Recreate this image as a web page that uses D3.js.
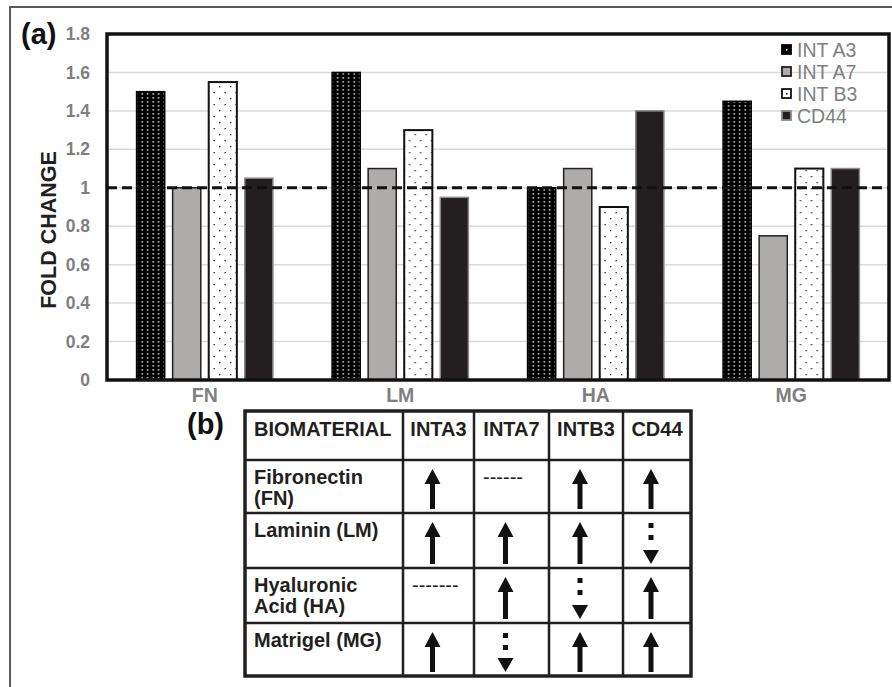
<!DOCTYPE html>
<html>
<head>
<meta charset="utf-8">
<script src="https://cdn.jsdelivr.net/npm/d3@7"></script>
<style>
  body { margin: 0; background: #fff; }
  svg { display: block; font-family: "Liberation Sans", Arial, sans-serif; }
</style>
</head>
<body>
<div id="chart"></div>
<script>
// Chart data
const categories = ["FN", "LM", "HA", "MG"];
const series = ["INT A3", "INT A7", "INT B3", "CD44"];
const intA3 = [1.5, 1.6, 1.0, 1.45];
const intA7 = [1.0, 1.1, 1.1, 0.75];
const intB3 = [1.55, 1.3, 0.9, 1.1];
const cd44 = [1.05, 0.95, 1.4, 1.1];
const yTicks = [0, 0.2, 0.4, 0.6, 0.8, 1, 1.2, 1.4, 1.6, 1.8];
const baseline = 1;

// Table data
const tableCols = ["BIOMATERIAL", "INTA3", "INTA7", "INTB3", "CD44"];
const tableRows = [["Fibronectin", "(FN)"], ["Laminin (LM)"], ["Hyaluronic", "Acid (HA)"], ["Matrigel (MG)"]];
const tableMarks = [
  ["up", "none", "up", "up"],
  ["up", "up", "up", "down"],
  ["none", "up", "down", "up"],
  ["up", "down", "up", "up"],
];
const noneText = ["------", "-------"];

const width = 892;
const height = 687;
const margin = { top: 34, bottom: 307, left: 107, right: 3 };
const font = "Liberation Sans, Arial, sans-serif";

const svg = d3
  .select("#chart")
  .append("svg")
  .attr("width", width)
  .attr("height", height);

// patterns
const defs = svg.append("defs");
const pA3 = defs
  .append("pattern")
  .attr("id", "patA3")
  .attr("patternUnits", "userSpaceOnUse")
  .attr("width", 5.5)
  .attr("height", 4);
pA3.append("rect").attr("width", 5.5).attr("height", 4).attr("fill", "#000");
pA3.append("rect").attr("x", 1.5).attr("y", 1.2).attr("width", 1.4).attr("height", 1.4).attr("fill", "#fff");

const pB3 = defs
  .append("pattern")
  .attr("id", "patB3")
  .attr("patternUnits", "userSpaceOnUse")
  .attr("width", 11)
  .attr("height", 12);
pB3.append("rect").attr("width", 11).attr("height", 12).attr("fill", "#fff");
pB3.append("rect").attr("x", 2).attr("y", 2).attr("width", 1.3).attr("height", 1.3).attr("fill", "#222");
pB3.append("rect").attr("x", 7.5).attr("y", 8).attr("width", 1.3).attr("height", 1.3).attr("fill", "#222");

const styles = {
  "INT A3": { fill: "url(#patA3)", stroke: "#000", sw: 1.5 },
  "INT A7": { fill: "#aeabab", stroke: "#231f20", sw: 1.5 },
  "INT B3": { fill: "url(#patB3)", stroke: "#111", sw: 2 },
  CD44: { fill: "#231f20", stroke: "#8a8a8a", sw: 1.5 },
};

// outer frame
svg
  .append("path")
  .attr("d", `M10,${height} L10,7 L${width},7`)
  .attr("fill", "none")
  .attr("stroke", "#5a5a5a")
  .attr("stroke-width", 2);

// Scales
const x0 = d3
  .scaleBand()
  .domain(categories)
  .range([margin.left, width - margin.right]);

const x1 = d3
  .scaleBand()
  .domain(series)
  .range([0, x0.bandwidth()])
  .paddingInner(0.22)
  .paddingOuter(0.82);

const y = d3
  .scaleLinear()
  .domain([0, 1.8])
  .range([height - margin.bottom, margin.top]);

// gridlines
svg
  .append("g")
  .selectAll("line")
  .data(yTicks.slice(1))
  .enter()
  .append("line")
  .attr("x1", margin.left)
  .attr("x2", width - margin.right)
  .attr("y1", (d) => y(d))
  .attr("y2", (d) => y(d))
  .attr("stroke", "#d9d9d9")
  .attr("stroke-width", 1.5);

// Bars
const rows = categories.map((c, i) => ({
  cat: c,
  vals: [intA3[i], intA7[i], intB3[i], cd44[i]],
}));

const groups = svg
  .append("g")
  .selectAll("g")
  .data(rows)
  .enter()
  .append("g")
  .attr("transform", (d) => `translate(${x0(d.cat)},0)`);

groups
  .selectAll("rect")
  .data((d) => d.vals.map((v, j) => ({ s: series[j], v })))
  .enter()
  .append("rect")
  .attr("x", (d) => x1(d.s))
  .attr("y", (d) => y(d.v))
  .attr("width", x1.bandwidth())
  .attr("height", (d) => y(0) - y(d.v))
  .attr("fill", (d) => styles[d.s].fill)
  .attr("stroke", (d) => styles[d.s].stroke)
  .attr("stroke-width", (d) => styles[d.s].sw);

// baseline at 1
svg
  .append("line")
  .attr("x1", margin.left)
  .attr("x2", width - margin.right)
  .attr("y1", y(baseline))
  .attr("y2", y(baseline))
  .attr("stroke", "#111")
  .attr("stroke-width", 3)
  .attr("stroke-dasharray", "10,5");

// plot frame
svg
  .append("rect")
  .attr("x", margin.left)
  .attr("y", margin.top)
  .attr("width", width - margin.right - margin.left)
  .attr("height", y(0) - margin.top)
  .attr("fill", "none")
  .attr("stroke", "#111")
  .attr("stroke-width", 3.5);

// Axis
const yAxis = svg
  .append("g")
  .attr("transform", `translate(${margin.left}, 0)`)
  .call(
    d3
      .axisLeft(y)
      .tickValues(yTicks)
      .tickSize(0)
      .tickPadding(17)
      .tickFormat((d) => String(+d.toFixed(1)))
  );
yAxis.select(".domain").remove();
yAxis
  .selectAll("text")
  .attr("font-family", font)
  .attr("font-size", 17.5)
  .attr("font-weight", "bold")
  .attr("fill", "#7f7f7f");

const xAxis = svg
  .append("g")
  .attr("transform", `translate(0, ${y(0)})`)
  .call(d3.axisBottom(x0).tickSize(0).tickPadding(8));
xAxis.select(".domain").remove();
xAxis
  .selectAll("text")
  .attr("font-family", font)
  .attr("font-size", 19.5)
  .attr("font-weight", "bold")
  .attr("fill", "#7f7f7f");

svg
  .append("text")
  .attr("transform", "translate(56, 230) rotate(-90)")
  .attr("text-anchor", "middle")
  .attr("font-size", 21.5)
  .attr("font-weight", "bold")
  .attr("fill", "#231f20")
  .text("FOLD CHANGE");

svg
  .append("text")
  .attr("x", 21)
  .attr("y", 44)
  .attr("font-size", 29)
  .attr("font-weight", "bold")
  .attr("fill", "#111")
  .text("(a)");

// Legend
const legend = svg
  .append("g")
  .selectAll("g")
  .data(series)
  .enter()
  .append("g")
  .attr("transform", (d, i) => `translate(782, ${57 + i * 22})`);

legend
  .append("rect")
  .attr("x", 0)
  .attr("y", -12)
  .attr("width", 9)
  .attr("height", 9)
  .attr("fill", (d) => (d === "INT A3" ? "#000" : d === "INT B3" ? "#fff" : styles[d].fill))
  .attr("stroke", (d) => styles[d].stroke)
  .attr("stroke-width", 1.8);

legend
  .filter((d) => d === "INT A3" || d === "INT B3")
  .append("rect")
  .attr("x", 4)
  .attr("y", -8)
  .attr("width", 1.5)
  .attr("height", 1.5)
  .attr("fill", (d) => (d === "INT A3" ? "#fff" : "#000"));

legend
  .append("text")
  .attr("x", 15)
  .attr("y", 0)
  .attr("font-size", 19.5)
  .attr("fill", "#7f7f7f")
  .text((d) => d);

// Table (b)

const colEdges = [245, 403, 474, 549, 623, 691];
const rowEdges = [411, 460, 513, 568, 623, 676];

const tx = d3.scaleOrdinal().domain(tableCols).range(colEdges.slice(0, 5));
const ty = d3.scaleOrdinal().domain(d3.range(5)).range(rowEdges.slice(0, 5));

svg
  .append("text")
  .attr("x", 187)
  .attr("y", 434)
  .attr("font-size", 29)
  .attr("font-weight", "bold")
  .attr("fill", "#111")
  .text("(b)");

const table = svg.append("g");

table
  .selectAll("line.v")
  .data(colEdges.slice(1, -1))
  .enter()
  .append("line")
  .attr("x1", (d) => d)
  .attr("x2", (d) => d)
  .attr("y1", rowEdges[0])
  .attr("y2", rowEdges[rowEdges.length - 1])
  .attr("stroke", "#231f20")
  .attr("stroke-width", 2.5);

table
  .selectAll("line.h")
  .data(rowEdges.slice(1, -1))
  .enter()
  .append("line")
  .attr("x1", colEdges[0])
  .attr("x2", colEdges[colEdges.length - 1])
  .attr("y1", (d) => d)
  .attr("y2", (d) => d)
  .attr("stroke", "#231f20")
  .attr("stroke-width", 2.5);

table
  .append("rect")
  .attr("x", colEdges[0])
  .attr("y", rowEdges[0])
  .attr("width", colEdges[5] - colEdges[0])
  .attr("height", rowEdges[5] - rowEdges[0])
  .attr("fill", "none")
  .attr("stroke", "#231f20")
  .attr("stroke-width", 3.5);

// header
table
  .selectAll("text.head")
  .data(tableCols)
  .enter()
  .append("text")
  .attr("x", (d, i) => (i === 0 ? tx(d) + 9 : (colEdges[i] + colEdges[i + 1]) / 2))
  .attr("y", ty(0) + 25)
  .attr("text-anchor", (d, i) => (i === 0 ? "start" : "middle"))
  .attr("font-size", 20)
  .attr("font-weight", "bold")
  .attr("fill", "#231f20")
  .text((d) => d);

// row labels
tableRows.forEach((lines, r) => {
  lines.forEach((t, k) => {
    table
      .append("text")
      .attr("x", colEdges[0] + 9)
      .attr("y", ty(r + 1) + 24 + k * 21)
      .attr("font-size", 20)
      .attr("font-weight", "bold")
      .attr("fill", "#231f20")
      .text(t);
  });
});

// arrows
let noneCount = 0;
tableMarks.forEach((row, r) => {
  const top = rowEdges[r + 1] + 9;
  const bottom = rowEdges[r + 2] - 4;
  row.forEach((m, c) => {
    const cx = (colEdges[c + 1] + colEdges[c + 2]) / 2 - 6;
    if (m === "up") {
      table
        .append("path")
        .attr(
          "d",
          `M${cx},${top} L${cx + 8},${top + 15} L${cx + 2.5},${top + 15} L${cx + 2.5},${bottom} ` +
            `L${cx - 2.5},${bottom} L${cx - 2.5},${top + 15} L${cx - 8},${top + 15} Z`
        )
        .attr("fill", "#111");
    } else if (m === "down") {
      [1, 13].forEach((o) => {
        table
          .append("rect")
          .attr("x", cx - 2.5)
          .attr("y", top + o)
          .attr("width", 5)
          .attr("height", 5)
          .attr("fill", "#111");
      });
      table
        .append("path")
        .attr("d", `M${cx - 8},${bottom - 14} L${cx + 8},${bottom - 14} L${cx},${bottom} Z`)
        .attr("fill", "#111");
    } else {
      table
        .append("text")
        .attr("x", colEdges[c + 1] + 9)
        .attr("y", rowEdges[r + 1] + 24)
        .attr("font-size", 20)
        .attr("fill", "#231f20")
        .text(noneText[noneCount++ % noneText.length]);
    }
  });
});
</script>
</body>
</html>
